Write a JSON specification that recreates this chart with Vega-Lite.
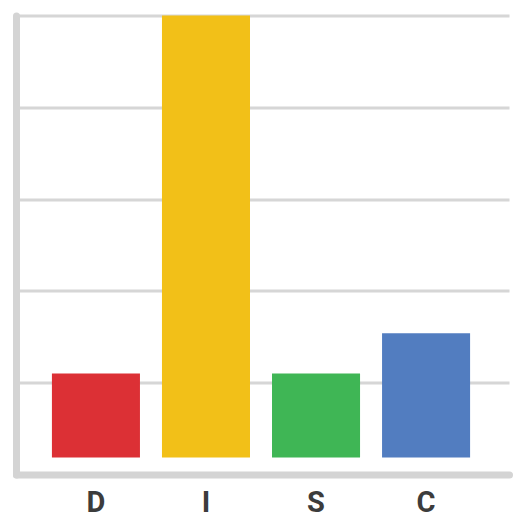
{
  "$schema": "https://vega.github.io/schema/vega-lite/v6.json",
  "autosize": "none",
  "width": 493,
  "height": 459,
  "padding": {"left": 16, "top": 15.5, "right": 14, "bottom": 49.5},
  "background": "white",
  "config": {"view": {"stroke": null}},
  "data": {
    "values": [
      {"type": "D", "score": 1.1, "color": "#dc3035"},
      {"type": "I", "score": 5.0, "color": "#f2c018"},
      {"type": "S", "score": 1.1, "color": "#3fb655"},
      {"type": "C", "score": 1.54, "color": "#527dc0"}
    ]
  },
  "mark": {"type": "bar"},
  "encoding": {
    "x": {
      "field": "type",
      "type": "nominal",
      "sort": null,
      "scale": {"paddingInner": 0.2, "paddingOuter": 0.34, "align": 0.48},
      "axis": {
        "title": null,
        "labelAngle": 0,
        "labelFont": "Roboto",
        "labelFontWeight": "bold",
        "labelFontSize": 29,
        "labelColor": "#3c3c3c",
        "labelPadding": 14,
        "ticks": false,
        "domainColor": "#d4d4d4",
        "domainWidth": 7,
        "domainCap": "round"
      }
    },
    "y": {
      "field": "score",
      "type": "quantitative",
      "scale": {"domain": [0, 5], "nice": false},
      "axis": {
        "title": null,
        "labels": false,
        "ticks": false,
        "values": [0, 1, 2, 3, 4, 5],
        "grid": true,
        "gridColor": "#d6d6d6",
        "gridWidth": 3,
        "domainColor": "#d4d4d4",
        "domainWidth": 7,
        "domainCap": "round"
      }
    },
    "y2": {"datum": 0.186},
    "color": {"field": "color", "type": "nominal", "scale": null, "legend": null}
  }
}
